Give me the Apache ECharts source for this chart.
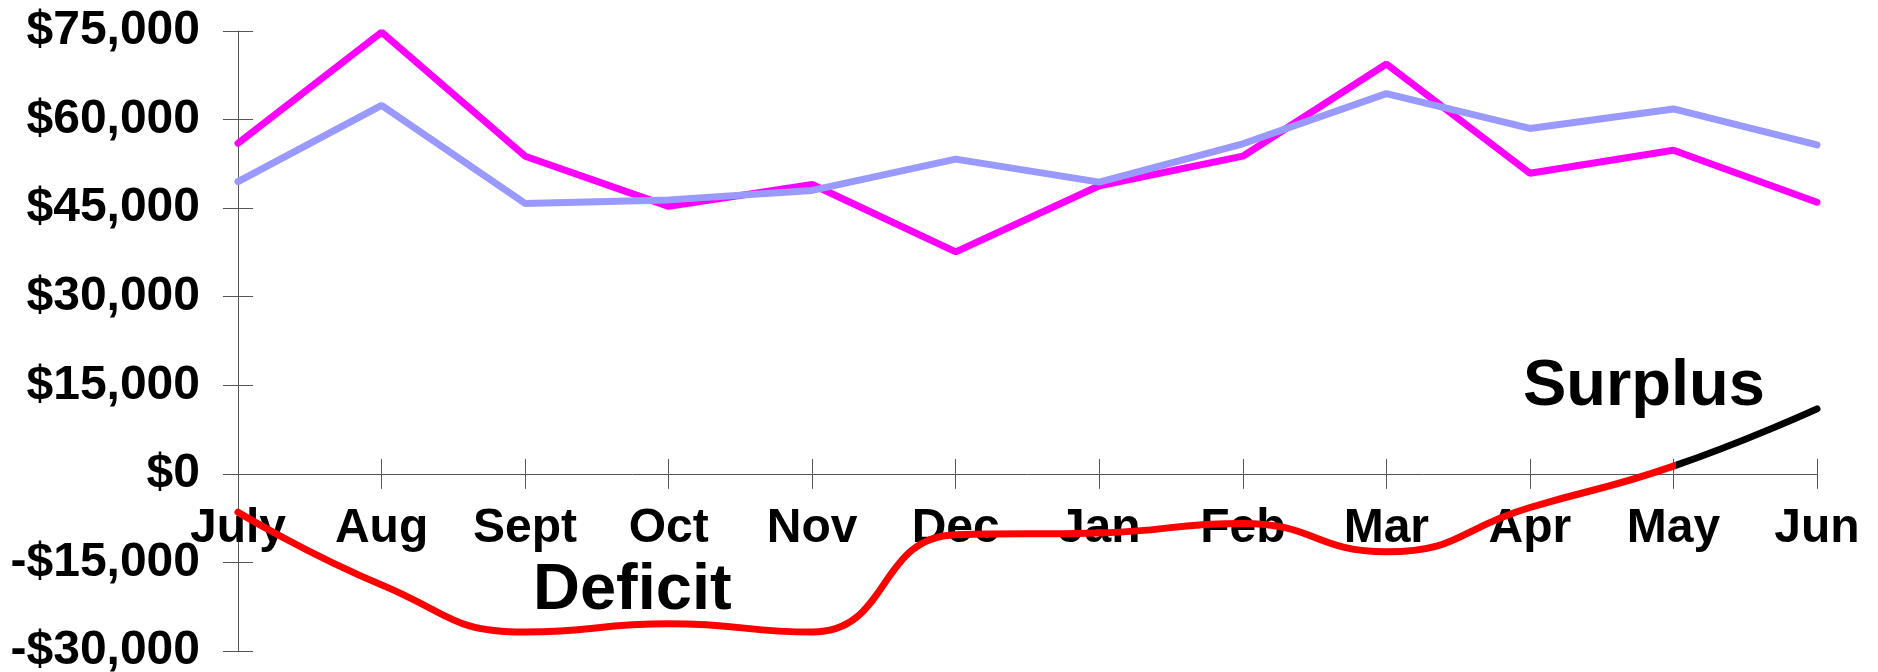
<!DOCTYPE html>
<html>
<head>
<meta charset="utf-8">
<script src="https://cdn.jsdelivr.net/npm/echarts@6/dist/echarts.min.js"></script>
<style>
  html, body { margin: 0; padding: 0; background: #fff; }
  #chart { width: 1878px; height: 672px; }
</style>
</head>
<body>
<div id="chart"></div>
<script>
// months of the fiscal year
const months = ['July', 'Aug', 'Sept', 'Oct', 'Nov', 'Dec', 'Jan', 'Feb', 'Mar', 'Apr', 'May', 'Jun'];

// magenta line
const seriesA = [56000, 74800, 53800, 45300, 49000, 37600, 48800, 53800, 69400, 50900, 54800, 46000];
// lavender line
const seriesB = [49500, 62400, 45800, 46400, 48000, 53300, 49400, 55900, 64400, 58500, 61800, 55700];
// net (deficit / surplus)
const netValues = [-6500, -18800, -26800, -25400, -26800, -10300, -10000, -8400, -13200, -5700, 1300, 11000];
// month where the net line turns to surplus colour
const surplusFrom = 'May';

const yTicks = [-30000, -15000, 0, 15000, 30000, 45000, 60000, 75000];

const FONT = '"Liberation Sans", Arial, sans-serif';
const axisColor = '#555';

function money(v) {
  const s = '$' + Math.abs(v).toLocaleString('en-US');
  return v < 0 ? '-' + s : s;
}

// red up to the surplus month, black after it
const split = months.indexOf(surplusFrom) / (months.length - 1);
const netColor = new echarts.graphic.LinearGradient(0, 0, 1, 0, [
  { offset: 0, color: '#FF0000' },
  { offset: split, color: '#FF0000' },
  { offset: split, color: '#000000' },
  { offset: 1, color: '#000000' }
]);

const chart = echarts.init(document.getElementById('chart'));

const yBase = {
  type: 'value',
  min: yTicks[0],
  max: yTicks[yTicks.length - 1],
  interval: yTicks[1] - yTicks[0],
  splitLine: { show: false }
};

const xBase = {
  type: 'category',
  data: months,
  boundaryGap: false,
  position: 'bottom'
};

chart.setOption({
  animation: false,
  backgroundColor: '#fff',
  grid: { left: 238, right: 61, top: 31, bottom: 21, outerBoundsMode: 'none', containLabel: false },
  xAxis: [
    Object.assign({}, xBase, {
      axisLine: { onZero: false, lineStyle: { color: axisColor, width: 1 } },
      axisTick: { length: 15, lineStyle: { color: axisColor } },
      axisLabel: {
        margin: 31,
        color: '#000',
        fontFamily: FONT,
        fontWeight: 'bold',
        fontSize: 48
      }
    }),
    Object.assign({}, xBase, {
      axisLine: { onZero: false, show: false },
      axisTick: { show: true, inside: true, length: 15, lineStyle: { color: axisColor } },
      axisLabel: { show: false }
    })
  ],
  yAxis: [
    Object.assign({}, yBase, {
      axisLine: { show: true, onZero: false, lineStyle: { color: axisColor, width: 1 } },
      axisTick: { show: true, length: 15, lineStyle: { color: axisColor } },
      axisLabel: {
        margin: 38,
        color: '#000',
        fontFamily: FONT,
        fontWeight: 'bold',
        fontSize: 48,
        formatter: money
      }
    }),
    Object.assign({}, yBase, {
      position: 'left',
      axisLine: { show: false, onZero: false },
      axisTick: { show: true, inside: true, length: 15, lineStyle: { color: axisColor } },
      axisLabel: { show: false }
    })
  ],
  series: [
    {
      type: 'line',
      data: seriesA,
      symbol: 'none',
      lineStyle: { color: '#FF00FF', width: 7, cap: 'round' }
    },
    {
      type: 'line',
      data: seriesB,
      symbol: 'none',
      lineStyle: { color: '#9999FF', width: 7, cap: 'round' }
    },
    {
      type: 'line',
      data: netValues,
      symbol: 'none',
      smooth: 0.5,
      lineStyle: { color: netColor, width: 7, cap: 'round' }
    }
  ],
  graphic: [
    {
      type: 'text',
      left: 533,
      top: 559,
      style: { text: 'Deficit', fill: '#000', fontFamily: FONT, fontWeight: 'bold', fontSize: 65 }
    },
    {
      type: 'text',
      left: 1523,
      top: 355,
      style: { text: 'Surplus', fill: '#000', fontFamily: FONT, fontWeight: 'bold', fontSize: 65 }
    }
  ]
});

// move the category axis up onto the $0 line
const zeroY = chart.convertToPixel({ yAxisIndex: 0 }, 0);
const bottomY = chart.convertToPixel({ yAxisIndex: 0 }, yTicks[0]);
chart.setOption({ xAxis: [{ offset: zeroY - bottomY }, { offset: zeroY - bottomY }] });
</script>
</body>
</html>
